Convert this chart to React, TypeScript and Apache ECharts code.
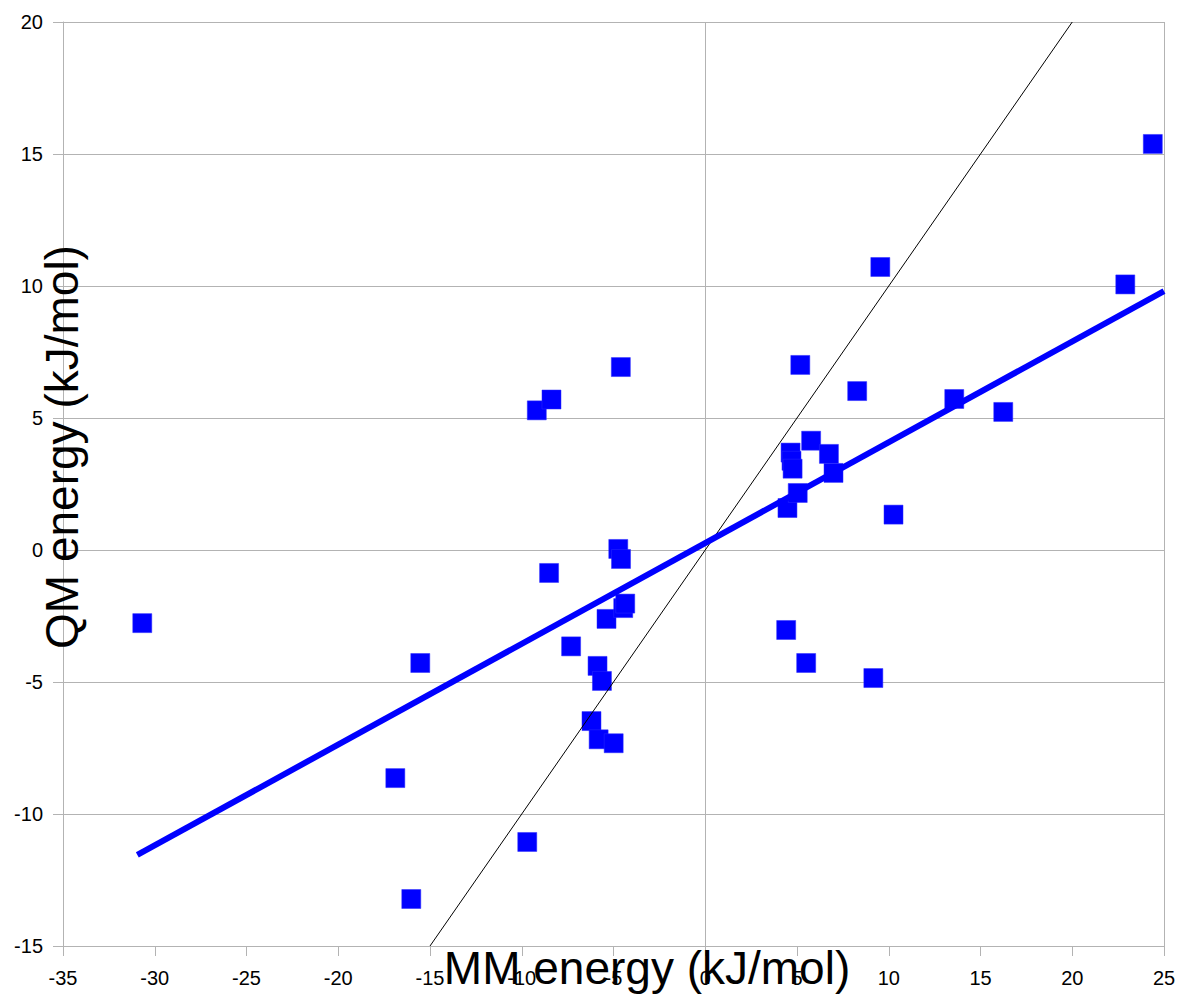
import React, { useEffect, useRef } from "react";
import * as echarts from "echarts";

const mmEnergy = [
  -30.68, -15.53, -16.89, -16.02, -9.7, -9.18, -8.38, -8.51, -7.31, -5.87,
  -5.63, -6.2, -5.81, -4.99, -5.38, -4.74, -4.59, -4.47, -4.36, -4.6,
  4.48, 4.65, 4.7, 4.76, 5.04, 4.41, 5.5, 5.18, 5.77, 6.74,
  6.99, 8.28, 9.16, 9.54, 10.26, 13.57, 16.24, 22.89, 24.39,
];
const qmEnergy = [
  -2.77, -4.28, -8.64, -13.22, -11.06, 5.29, 5.7, -0.87, -3.65, -4.39,
  -4.96, -6.48, -7.17, -7.32, -2.61, 0.04, -0.34, -2.2, -2.03, 6.93,
  1.59, 3.69, 3.38, 3.08, 2.16, -3.03, -4.28, 7.01, 4.14, 3.64,
  2.92, 6.02, -4.85, 10.72, 1.34, 5.72, 5.23, 10.06, 15.38,
];
const trendLine = [
  [-30.95, -11.55],
  [25, 9.81],
];
const identityLine = [
  [-15, -15],
  [20, 20],
];
const xTicks = { min: -35, max: 25, interval: 5 };
const yTicks = { min: -15, max: 20, interval: 5 };
const xName = "MM energy (kJ/mol)";
const yName = "QM energy (kJ/mol)";

const FONT = '"Liberation Sans", Arial, sans-serif';
const GRID = "#b3b3b3";

export default function App() {
  const ref = useRef<HTMLDivElement>(null);
  useEffect(() => {
    document.body.style.margin = "0";
    if (!ref.current) return;
    const chart = echarts.init(ref.current, null, { renderer: "svg" });
    const points = mmEnergy.map((x, i) => [x, qmEnergy[i]]);
    chart.setOption({
      animation: false,
      backgroundColor: "#ffffff",
      grid: { left: 63, right: 16, top: 22, bottom: 48, containLabel: false },
      xAxis: {
        type: "value",
        min: xTicks.min,
        max: xTicks.max,
        interval: xTicks.interval,
        axisLine: { show: true, onZero: false, lineStyle: { color: GRID, width: 1 } },
        axisTick: { show: true, length: 10, lineStyle: { color: GRID } },
        axisLabel: { color: "#000", fontSize: 20, fontFamily: FONT, margin: 22 },
        splitLine: { show: false },
      },
      yAxis: {
        type: "value",
        min: yTicks.min,
        max: yTicks.max,
        interval: yTicks.interval,
        axisLine: { show: true, onZero: false, lineStyle: { color: GRID, width: 1 } },
        axisTick: { show: true, length: 10, lineStyle: { color: GRID } },
        axisLabel: { color: "#000", fontSize: 20, fontFamily: FONT, margin: 20 },
        splitLine: { show: true, lineStyle: { color: GRID, width: 1 } },
      },
      series: [
        {
          type: "scatter",
          data: points,
          symbol: "rect",
          symbolSize: 19,
          itemStyle: { color: "#0000ff", opacity: 1, borderColor: "#2a2aff", borderWidth: 0.5 },
          z: 3,
          silent: true,
          markLine: {
            silent: true,
            symbol: "none",
            label: { show: false },
            lineStyle: { color: GRID, width: 1, type: "solid" },
            data: [{ xAxis: 0 }, { xAxis: 25 }],
            z: 1,
          },
        },
        {
          type: "line",
          data: identityLine,
          showSymbol: false,
          symbol: "none",
          lineStyle: { color: "#000000", width: 1 },
          z: 4,
          silent: true,
        },
        {
          type: "line",
          data: trendLine,
          showSymbol: false,
          symbol: "none",
          lineStyle: { color: "#0000ff", width: 6 },
          z: 5,
          silent: true,
        },
      ],
      graphic: [
        {
          type: "text",
          x: 647,
          y: 968,
          z: 100,
          style: {
            text: xName,
            font: `46px ${FONT}`,
            fill: "#000",
            align: "center",
            verticalAlign: "middle",
            textAlign: "center",
            textVerticalAlign: "middle",
          },
        },
        {
          type: "text",
          x: 62,
          y: 447,
          rotation: Math.PI / 2,
          z: 100,
          style: {
            text: yName,
            font: `46px ${FONT}`,
            fill: "#000",
            align: "center",
            verticalAlign: "middle",
            textAlign: "center",
            textVerticalAlign: "middle",
          },
        },
      ],
    });
    return () => chart.dispose();
  }, []);
  return <div ref={ref} style={{ width: 1180, height: 994 }} />;
}
